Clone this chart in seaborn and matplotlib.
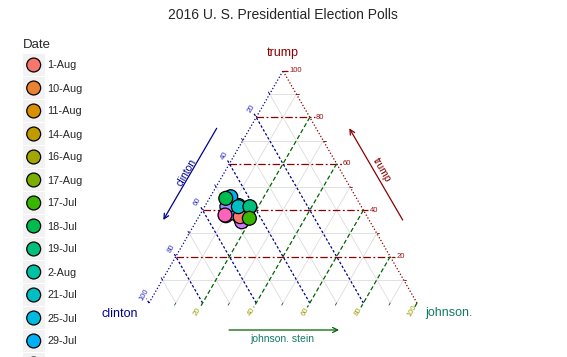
import numpy as np
import pandas as pd
import matplotlib
matplotlib.use('Agg')
import matplotlib.pyplot as plt
from matplotlib.patches import Rectangle
import seaborn as sns

# poll shares in %, rows in drawing order (later rows sit on top)
dates = ['10-Aug', '11-Aug', '14-Aug', '16-Aug', '17-Aug', '2-Aug', '25-Jul',
         '5-Aug', '7-Aug', '9-Aug', '3-Aug', '4-Aug', '29-Jul', '31-Jul',
         '8-Aug', '1-Aug', '21-Jul', '18-Jul', '19-Jul', '17-Jul']
clinton = [46.0, 47.4, 42.0, 44.5, 48.6, 45.5, 47.0, 52.2, 52.5, 47.6,
           49.6, 47.9, 46.6, 50.2, 52.7, 47.4, 45.9, 48.8, 41.6, 44.3]
trump = [41.0, 37.5, 41.2, 36.8, 44.8, 42.0, 45.5, 38.2, 37.6, 36.9,
         38.8, 35.0, 45.8, 41.5, 37.9, 37.2, 41.5, 45.1, 41.5, 36.5]
johnson_stein = [13.0, 15.1, 16.8, 18.7, 6.6, 12.5, 7.5, 9.6, 9.9, 15.5,
                 11.6, 17.1, 7.6, 8.3, 9.4, 15.4, 12.6, 6.1, 16.9, 19.2]

# legend order (alphabetical, as the factor levels)
date_levels = ['1-Aug', '10-Aug', '11-Aug', '14-Aug', '16-Aug', '17-Aug', '17-Jul',
               '18-Jul', '19-Jul', '2-Aug', '21-Jul', '25-Jul', '29-Jul', '3-Aug',
               '31-Jul', '4-Aug', '5-Aug', '7-Aug', '8-Aug', '9-Aug']
date_colors = ['#F8766D', '#EA8331', '#D89000', '#C09B00', '#A3A500', '#7CAE00',
               '#39B600', '#00BB4E', '#00BF7D', '#00C1A3', '#00BFC4', '#00BAE0',
               '#00B0F6', '#35A2FF', '#9590FF', '#C77CFF', '#E76BF3', '#FA62DB',
               '#FF62BC', '#FF6C91']

major_breaks = [0.2, 0.4, 0.6, 0.8, 1.0]
major_labels = ['20', '40', '60', '80', '100']
minor_breaks = [0.1, 0.3, 0.5, 0.7, 0.9]

T_COL, L_COL, R_COL = '#8B0000', '#00008B', '#006400'

H = np.sqrt(3) / 2
SIDE = 268.0  # triangle side in pixels


def tern_xy(c, t, j):
    c, t, j = np.asarray(c, float), np.asarray(t, float), np.asarray(j, float)
    s = c + t + j
    t, j = t / s, j / s
    return j + t / 2, t * H


def px(x, y):
    # figure pixel -> triangle units (left vertex at 149,303)
    return (x - 149) / SIDE, (303 - y) / SIDE


def iso_line(axis, v):
    # start point, tick end point, outward tick direction
    if axis == 'T':
        return tern_xy(1 - v, v, 0), tern_xy(0, v, 1 - v), np.array([1.0, 0.0])
    if axis == 'L':
        return tern_xy(v, 0, 1 - v), tern_xy(v, 1 - v, 0), np.array([-0.5, H])
    return tern_xy(0, 1 - v, v), tern_xy(1 - v, 0, v), np.array([-0.5, -H])


df = pd.DataFrame({'date': dates, 'clinton': clinton, 'trump': trump,
                   'johnson': johnson_stein})
df['x'], df['y'] = tern_xy(df['clinton'], df['trump'], df['johnson'])

sns.set_style('white')
plt.rcParams['font.family'] = ['Liberation Sans', 'DejaVu Sans']

fig = plt.figure(figsize=(5.67, 3.57), dpi=100)

# legend panel in pixel coordinates (runs off the bottom like the original)
lax = fig.add_axes([0, 0, 1, 1])
lax.set_xlim(0, 567)
lax.set_ylim(357, 0)
lax.axis('off')
lax.text(22.7, 44.5, 'Date', fontsize=9.5, va='center', ha='left')
key_y = 65 + 23 * np.arange(len(date_levels))
for yk, lab in zip(key_y, date_levels):
    lax.add_patch(Rectangle((22.7, yk - 10.75), 22, 21.5, facecolor='#F2F2F2',
                            edgecolor='none'))
    if yk + 6 < 357:
        lax.text(47, yk + 0.5, lab, fontsize=7.8, va='center', ha='left')
lax.scatter(np.full(len(date_levels), 33.7), key_y, c=date_colors, s=100,
            edgecolors='black', linewidths=0.9, zorder=3)

ax = fig.add_axes([149 / 567, 54 / 357, SIDE / 567, SIDE * H / 357])
ax.set_xlim(0, 1)
ax.set_ylim(0, H)
ax.axis('off')

tick = 5 / SIDE
minor_tick = 2.5 / SIDE

# minor grid + minor ticks
for axis, col in [('T', T_COL), ('L', L_COL), ('R', R_COL)]:
    for v in minor_breaks:
        (x0, y0), (x1, y1), d = iso_line(axis, v)
        ax.plot([x0, x1], [y0, y1], color='#DCDCDC', lw=0.6, zorder=1)
        ax.plot([x1, x1 + d[0] * minor_tick], [y1, y1 + d[1] * minor_tick],
                color=col, lw=0.6, zorder=2, clip_on=False)

# triangle edges (bottom edge is not drawn)
lx, ly = tern_xy([1, 0], [0, 1], [0, 0])
rx, ry = tern_xy([0, 0], [0, 1], [1, 0])
ax.plot(lx, ly, color=L_COL, lw=0.9, ls=(0, (1, 1.6)), zorder=2, clip_on=False)
ax.plot(rx, ry, color=T_COL, lw=0.9, ls=(0, (1, 1.6)), zorder=2, clip_on=False)

styles = {
    'T': dict(color=T_COL, ls=(0, (6, 2, 1.5, 2))),
    'L': dict(color=L_COL, ls=(0, (2, 1.6))),
    'R': dict(color=R_COL, ls=(0, (3.5, 2))),
}
label_cols = {'T': '#9A1010', 'L': '#2B2BC8', 'R': '#9C9C00'}

for axis in ['T', 'L', 'R']:
    for v, lab in zip(major_breaks, major_labels):
        (x0, y0), (x1, y1), d = iso_line(axis, v)
        ax.plot([x0, x1 + d[0] * tick], [y0, y1 + d[1] * tick], lw=0.9,
                zorder=3, clip_on=False, **styles[axis])
        if axis == 'T':
            ax.text(x1 + tick + 1 / SIDE, y1, lab, fontsize=5.5, color=label_cols[axis],
                    ha='left', va='center', clip_on=False)
        else:
            off = 9.5 / SIDE
            ax.text(x1 + d[0] * off, y1 + d[1] * off, lab, fontsize=5.5, rotation=60,
                    color=label_cols[axis], ha='center', va='center', clip_on=False)

sns.scatterplot(data=df, x='x', y='y', hue='date', hue_order=date_levels,
                palette=date_colors, s=100, edgecolor='black', linewidth=0.9,
                legend=False, ax=ax, zorder=5, clip_on=False)

# vertex titles
ax.text(*px(283, 53), 'trump', color=T_COL, fontsize=9, ha='center', va='center')
ax.text(*px(120, 314), 'clinton', color=L_COL, fontsize=9, ha='center', va='center')
ax.text(*px(449, 313), 'johnson.', color='#137A66', fontsize=9, ha='center', va='center')

# direction arrows
arrows = [
    (px(216.7, 128.3), px(163.3, 220), L_COL, 'clinton', px(186.5, 173), 60),
    (px(402.7, 220), px(349.3, 128.3), T_COL, 'trump', px(381.7, 170), -60),
    (px(229, 330), px(339, 330), R_COL, 'johnson. stein', px(282.5, 339), 0),
]
for tail, head, col, lab, pos, rot in arrows:
    ax.annotate('', xy=head, xytext=tail, annotation_clip=False,
                arrowprops=dict(arrowstyle='->', color=col, lw=0.9,
                                mutation_scale=9, shrinkA=0, shrinkB=0))
    tcol = '#137A66' if col == R_COL else col
    ax.text(*pos, lab, color=tcol, fontsize=7.5, rotation=rot,
            ha='center', va='center', clip_on=False)

fig.text(283 / 567, 1 - 15 / 357, '2016 U. S. Presidential Election Polls',
         fontsize=10, ha='center', va='center')

fig.savefig('out.png', dpi=100, facecolor='white')
plt.close(fig)
